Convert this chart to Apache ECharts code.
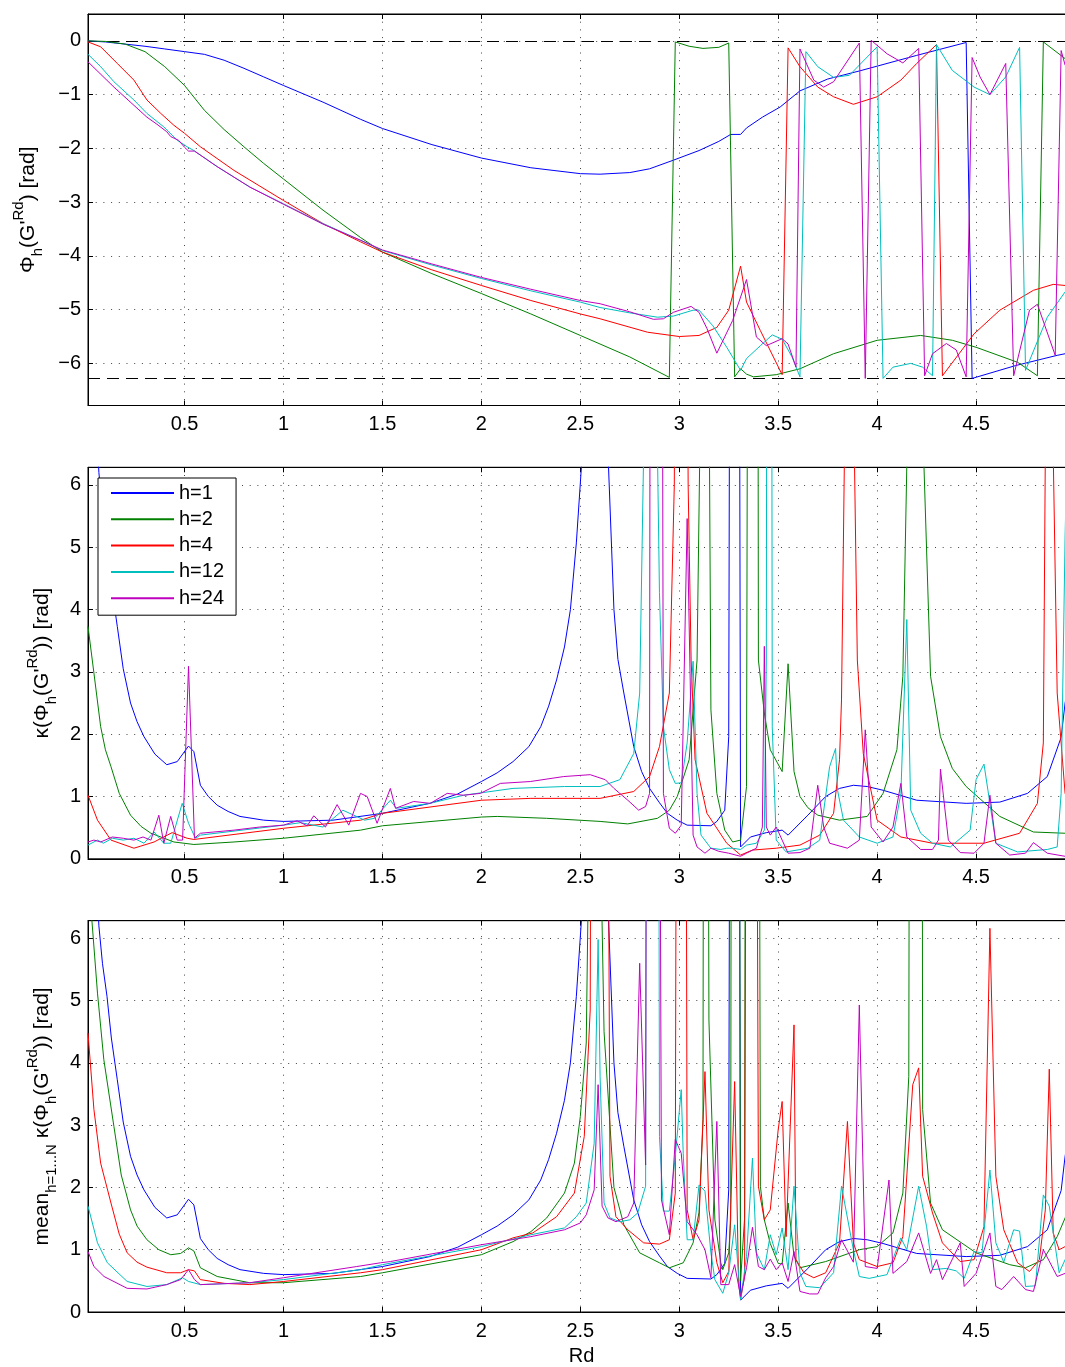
<!DOCTYPE html>
<html><head><meta charset="utf-8">
<script src="https://cdn.jsdelivr.net/npm/echarts@6/dist/echarts.min.js"></script>
<style>html,body{margin:0;padding:0;overflow:hidden;background:#fff}#c{width:1080px;height:1367px}</style>
</head><body><div id="c"></div>
<script>
const seriesNames = ['h=1', 'h=2', 'h=4', 'h=12', 'h=24'];
const colors = ['#0000ff', '#008000', '#ff0000', '#00bfbf', '#bf00bf'];
const refLines = [0, -2 * Math.PI];

// ---- Panel 1: phase ----
const phaseH1 = [[0.012,0],[0.1,-0.02],[0.2,-0.06],[0.3,-0.1],[0.4,-0.15],[0.5,-0.2],[0.6,-0.25],[0.7,-0.36],[0.8,-0.51],[0.9,-0.67],[1.0,-0.83],[1.2,-1.14],[1.39,-1.46],[1.5,-1.63],[1.75,-1.93],[2.0,-2.18],[2.25,-2.36],[2.5,-2.47],[2.6,-2.48],[2.75,-2.45],[2.85,-2.38],[2.97,-2.22],[3.1,-2.04],[3.2,-1.87],[3.26,-1.74],[3.31,-1.74],[3.34,-1.62],[3.42,-1.42],[3.51,-1.23],[3.61,-0.93],[3.75,-0.71],[3.91,-0.56],[4.0,-0.47],[4.2,-0.27],[4.45,-0.03],[4.48,-6.28],[4.7,-6.04],[4.91,-5.85],[4.95,-5.82],[5.0,-5.78]];
const phaseH2 = [[0.012,0],[0.1,-0.01],[0.2,-0.06],[0.3,-0.2],[0.4,-0.48],[0.5,-0.83],[0.6,-1.29],[0.7,-1.65],[0.8,-1.97],[0.9,-2.28],[1.0,-2.57],[1.2,-3.15],[1.39,-3.66],[1.5,-3.93],[1.75,-4.33],[2.0,-4.7],[2.25,-5.08],[2.5,-5.48],[2.75,-5.88],[2.95,-6.26],[2.98,-0.02],[3.05,-0.1],[3.12,-0.14],[3.2,-0.12],[3.25,-0.04],[3.28,-6.25],[3.31,-6.1],[3.34,-6.2],[3.375,-6.25],[3.49,-6.21],[3.61,-6.1],[3.78,-5.82],[4.0,-5.57],[4.22,-5.48],[4.38,-5.57],[4.5,-5.7],[4.71,-5.98],[4.81,-6.23],[4.84,-0.02],[4.95,-0.33],[5.0,-0.45]];
const phaseH4 = [[0.012,-0.02],[0.076,-0.11],[0.16,-0.42],[0.244,-0.73],[0.31,-1.1],[0.38,-1.35],[0.446,-1.57],[0.5,-1.72],[0.58,-1.97],[0.75,-2.41],[1.0,-2.97],[1.2,-3.4],[1.39,-3.74],[1.5,-3.93],[1.75,-4.26],[2.0,-4.55],[2.25,-4.83],[2.5,-5.08],[2.6,-5.17],[2.84,-5.42],[3.0,-5.5],[3.1,-5.48],[3.19,-5.33],[3.25,-5.01],[3.31,-4.19],[3.34,-4.86],[3.41,-5.39],[3.52,-6.21],[3.55,-0.13],[3.61,-0.48],[3.7,-0.86],[3.78,-1.04],[3.88,-1.18],[4.0,-1.04],[4.12,-0.73],[4.2,-0.42],[4.3,-0.07],[4.33,-6.23],[4.49,-5.45],[4.62,-5.01],[4.79,-4.64],[4.89,-4.53],[4.95,-4.55],[5.0,-4.58]];
const phaseH12 = [[0.012,-0.25],[0.076,-0.48],[0.143,-0.76],[0.244,-1.1],[0.31,-1.35],[0.395,-1.6],[0.463,-1.85],[0.513,-1.97],[0.547,-2.04],[0.665,-2.34],[0.83,-2.72],[1.0,-3.03],[1.2,-3.4],[1.39,-3.71],[1.5,-3.9],[1.75,-4.17],[2.0,-4.42],[2.25,-4.65],[2.5,-4.86],[2.6,-4.96],[2.75,-5.06],[2.89,-5.14],[2.97,-5.12],[3.07,-5.01],[3.1,-5.01],[3.17,-5.3],[3.24,-5.7],[3.31,-6.13],[3.34,-5.91],[3.41,-5.67],[3.47,-5.47],[3.52,-5.55],[3.57,-5.88],[3.61,-6.25],[3.64,-0.2],[3.7,-0.48],[3.78,-0.68],[3.86,-0.64],[4.0,-0.11],[4.03,-6.28],[4.08,-6.07],[4.17,-6.0],[4.23,-6.07],[4.28,-6.23],[4.3,-0.07],[4.38,-0.55],[4.49,-0.86],[4.57,-1.0],[4.65,-0.67],[4.72,-0.12],[4.75,-6.13],[4.86,-5.14],[4.95,-4.67],[5.0,-4.5]];
const phaseH24 = [[0.012,-0.39],[0.143,-0.86],[0.31,-1.42],[0.36,-1.55],[0.41,-1.69],[0.43,-1.78],[0.47,-1.85],[0.5,-1.98],[0.52,-2.05],[0.55,-2.05],[0.665,-2.34],[0.83,-2.72],[1.0,-3.04],[1.2,-3.41],[1.39,-3.71],[1.5,-3.89],[1.75,-4.15],[2.0,-4.4],[2.25,-4.62],[2.5,-4.83],[2.6,-4.89],[2.75,-5.04],[2.87,-5.18],[2.92,-5.17],[2.97,-5.05],[3.06,-4.94],[3.1,-5.05],[3.14,-5.35],[3.19,-5.81],[3.27,-5.2],[3.34,-4.44],[3.39,-5.51],[3.44,-5.67],[3.52,-5.54],[3.55,-5.64],[3.59,-6.07],[3.61,-0.15],[3.68,-0.73],[3.73,-0.86],[3.78,-0.76],[3.91,-0.04],[3.94,-6.28],[3.97,0.01],[4.05,-0.24],[4.13,-0.41],[4.21,-0.14],[4.24,-6.23],[4.28,-5.82],[4.35,-5.63],[4.4,-5.75],[4.45,-6.25],[4.48,-0.31],[4.52,-0.67],[4.57,-1.0],[4.65,-0.42],[4.69,-6.23],[4.77,-5.01],[4.81,-4.9],[4.9,-5.85],[4.93,-0.18],[4.95,-0.45],[5.0,-0.7]];

// ---- Panel 2: kappa ----
const kappaH1 = [[0.012,9],[0.04,8],[0.067,6.2],[0.085,5.6],[0.108,5.07],[0.13,4.4],[0.16,3.73],[0.19,3.05],[0.227,2.5],[0.26,2.2],[0.295,1.96],[0.35,1.68],[0.41,1.51],[0.463,1.56],[0.52,1.81],[0.547,1.72],[0.58,1.18],[0.62,1.0],[0.665,0.86],[0.72,0.76],[0.78,0.68],[0.9,0.62],[1.0,0.6],[1.25,0.62],[1.5,0.73],[1.74,0.89],[1.88,1.04],[2.0,1.24],[2.08,1.38],[2.16,1.56],[2.24,1.8],[2.3,2.12],[2.34,2.45],[2.38,2.87],[2.42,3.4],[2.45,4.0],[2.48,5.07],[2.51,6.5],[2.54,12],[2.57,30],[2.61,12],[2.64,6.5],[2.67,4.0],[2.69,3.2],[2.72,2.66],[2.77,1.8],[2.81,1.4],[2.85,1.13],[2.9,0.9],[2.94,0.73],[2.99,0.62],[3.04,0.54],[3.16,0.53],[3.19,0.6],[3.23,0.78],[3.25,1.96],[3.27,30],[3.29,30],[3.31,0.19],[3.36,0.35],[3.44,0.42],[3.52,0.46],[3.55,0.38],[3.65,0.7],[3.74,1.0],[3.81,1.13],[3.88,1.18],[3.95,1.16],[4.03,1.1],[4.2,0.94],[4.45,0.89],[4.62,0.91],[4.76,1.05],[4.86,1.32],[4.93,1.95],[4.95,2.5],[5.0,3.4]];
const kappaH2 = [[0.012,3.73],[0.042,2.98],[0.076,2.12],[0.1,1.75],[0.128,1.48],[0.17,1.05],[0.227,0.7],[0.28,0.52],[0.33,0.41],[0.446,0.27],[0.547,0.23],[0.75,0.27],[1.0,0.33],[1.39,0.46],[1.5,0.53],[2.0,0.67],[2.08,0.68],[2.33,0.65],[2.6,0.6],[2.74,0.56],[2.89,0.65],[2.95,0.78],[2.99,1.0],[3.05,1.59],[3.09,3.19],[3.11,8],[3.13,30],[3.15,8],[3.16,2.39],[3.19,1.05],[3.23,0.46],[3.27,0.27],[3.31,0.3],[3.34,1.16],[3.36,30],[3.39,30],[3.4,3.19],[3.43,2.34],[3.46,1.75],[3.52,1.4],[3.55,3.13],[3.58,1.4],[3.61,1.0],[3.65,0.82],[3.7,0.7],[3.81,0.62],[3.95,0.68],[4.03,1.05],[4.1,1.75],[4.13,2.93],[4.16,8],[4.19,30],[4.22,8],[4.27,2.93],[4.32,1.96],[4.38,1.45],[4.45,1.16],[4.62,0.68],[4.79,0.43],[4.95,0.41],[5.0,0.42]];
const kappaH4 = [[0.012,1.02],[0.06,0.62],[0.128,0.3],[0.244,0.17],[0.346,0.27],[0.437,0.42],[0.513,0.33],[0.547,0.31],[1.0,0.49],[1.39,0.62],[1.5,0.73],[2.0,0.94],[2.25,0.97],[2.6,0.97],[2.77,1.08],[2.85,1.32],[2.9,1.8],[2.95,2.66],[2.975,6.0],[3.01,30],[3.045,6.0],[3.06,3.19],[3.08,1.59],[3.14,0.73],[3.24,0.25],[3.31,0.06],[3.37,0.14],[3.49,0.17],[3.61,0.22],[3.71,0.38],[3.78,0.73],[3.81,1.59],[3.82,2.55],[3.835,6.5],[3.86,30],[3.885,6.5],[3.9,3.19],[3.93,1.69],[4.0,0.62],[4.12,0.35],[4.28,0.25],[4.54,0.25],[4.72,0.41],[4.81,0.89],[4.84,1.86],[4.85,6.5],[4.87,30],[4.89,6.5],[4.91,2.66],[4.95,1.05],[5.0,0.7]];
const kappaH12 = [[0.012,0.22],[0.06,0.3],[0.09,0.25],[0.135,0.33],[0.19,0.3],[0.244,0.33],[0.295,0.25],[0.346,0.43],[0.395,0.25],[0.43,0.25],[0.488,0.89],[0.52,0.57],[0.555,0.33],[0.58,0.38],[1.0,0.54],[1.086,0.58],[1.2,0.51],[1.3,0.78],[1.41,0.62],[1.46,0.65],[1.54,0.94],[1.57,0.81],[1.74,0.89],[1.91,1.02],[2.16,1.13],[2.42,1.16],[2.6,1.16],[2.7,1.27],[2.77,1.69],[2.8,2.66],[2.82,6.5],[2.86,30],[2.89,6.5],[2.9,4.27],[2.92,2.12],[2.95,1.43],[2.98,1.21],[3.01,1.22],[3.04,1.86],[3.07,3.17],[3.09,1.05],[3.11,0.38],[3.16,0.17],[3.21,0.15],[3.24,0.17],[3.27,0.17],[3.31,0.15],[3.34,0.22],[3.39,0.25],[3.43,0.46],[3.44,3.19],[3.455,40],[3.47,2.12],[3.49,0.3],[3.54,0.11],[3.65,0.17],[3.71,0.3],[3.76,1.48],[3.79,1.77],[3.8,1.1],[3.83,0.62],[3.91,0.35],[4.0,0.25],[4.08,0.35],[4.12,1.05],[4.15,3.84],[4.17,0.78],[4.22,0.41],[4.28,0.25],[4.37,0.19],[4.47,0.46],[4.5,1.27],[4.54,1.52],[4.56,1.1],[4.6,0.25],[4.71,0.11],[4.86,0.15],[4.91,0.19],[4.93,1.05],[4.95,5.18],[4.97,8]];
const kappaH24 = [[0.012,0.27],[0.042,0.3],[0.076,0.27],[0.135,0.35],[0.19,0.33],[0.244,0.3],[0.29,0.35],[0.33,0.3],[0.37,0.7],[0.395,0.25],[0.43,0.68],[0.463,0.3],[0.49,0.3],[0.52,3.09],[0.55,0.33],[0.58,0.41],[0.75,0.46],[0.88,0.51],[1.0,0.54],[1.069,0.61],[1.12,0.53],[1.153,0.69],[1.212,0.51],[1.271,0.87],[1.33,0.54],[1.389,1.05],[1.423,1.0],[1.473,0.57],[1.54,1.13],[1.566,0.81],[1.658,0.92],[1.742,0.89],[1.827,1.05],[1.91,1.02],[1.995,1.05],[2.096,1.21],[2.247,1.24],[2.416,1.32],[2.55,1.35],[2.626,1.27],[2.67,1.13],[2.74,0.94],[2.795,0.78],[2.83,0.84],[2.85,1.05],[2.86,30],[2.9,30],[2.92,1.05],[2.95,0.49],[2.98,0.41],[3.01,0.54],[3.04,5.46],[3.07,0.38],[3.09,0.19],[3.13,0.09],[3.16,0.17],[3.2,0.12],[3.25,0.09],[3.31,0.04],[3.34,0.09],[3.39,0.17],[3.42,0.51],[3.43,3.41],[3.44,0.51],[3.46,0.38],[3.49,0.51],[3.52,0.3],[3.55,0.09],[3.61,0.1],[3.66,0.17],[3.7,1.18],[3.73,0.51],[3.76,0.25],[3.85,0.17],[3.91,0.3],[3.94,2.07],[3.97,0.51],[4.03,0.27],[4.08,0.51],[4.12,1.21],[4.15,0.35],[4.22,0.15],[4.28,0.15],[4.31,0.3],[4.32,1.44],[4.36,0.3],[4.42,0.1],[4.49,0.09],[4.54,0.25],[4.57,1.02],[4.6,0.25],[4.67,0.06],[4.75,0.09],[4.79,0.26],[4.86,0.09],[4.95,0.04],[5.0,0.04]];

// ---- Panel 3: mean kappa over h=1..N ----
const meanH1 = kappaH1; // the mean over h=1 alone is the same curve as in panel 2
const meanH2 = [[0.012,9],[0.029,6.4],[0.06,5.12],[0.092,4.05],[0.143,2.98],[0.18,2.2],[0.227,1.64],[0.26,1.38],[0.31,1.16],[0.37,1.0],[0.43,0.92],[0.48,0.94],[0.52,1.03],[0.547,0.98],[0.58,0.71],[0.665,0.57],[0.83,0.47],[1.0,0.47],[1.39,0.57],[1.5,0.63],[2.0,0.92],[2.16,1.13],[2.25,1.29],[2.33,1.51],[2.42,1.91],[2.47,2.39],[2.5,3.14],[2.53,4.32],[2.545,8],[2.57,30],[2.6,8],[2.62,4.5],[2.67,2.0],[2.72,1.4],[2.8,0.95],[2.9,0.79],[2.95,0.71],[3.02,0.79],[3.07,1.11],[3.1,1.6],[3.12,3.09],[3.13,30],[3.15,4.69],[3.18,1.48],[3.21,0.79],[3.22,0.68],[3.25,0.95],[3.26,1.48],[3.27,30],[3.29,30],[3.31,0.5],[3.33,1.5],[3.345,30],[3.39,30],[3.41,2.02],[3.43,1.48],[3.46,1.1],[3.5,0.78],[3.52,0.77],[3.55,1.75],[3.58,0.9],[3.61,0.71],[3.74,0.81],[3.91,1.0],[4.0,1.05],[4.08,1.27],[4.13,1.91],[4.16,3.78],[4.175,30],[4.22,30],[4.23,3.25],[4.27,1.75],[4.33,1.32],[4.5,0.95],[4.67,0.76],[4.75,0.71],[4.84,0.84],[4.91,1.21],[4.95,1.51],[5.0,1.9]];
const meanH4 = [[0.012,4.48],[0.042,3.25],[0.076,2.39],[0.128,1.75],[0.17,1.25],[0.21,0.95],[0.26,0.8],[0.31,0.72],[0.41,0.63],[0.48,0.63],[0.52,0.68],[0.55,0.66],[0.58,0.52],[0.7,0.46],[0.83,0.44],[1.0,0.49],[1.39,0.63],[1.5,0.68],[2.0,1.0],[2.16,1.19],[2.26,1.27],[2.38,1.53],[2.47,1.91],[2.52,2.82],[2.55,4.85],[2.57,30],[2.61,30],[2.65,2.18],[2.68,1.53],[2.74,1.32],[2.82,1.11],[2.9,1.09],[2.95,1.16],[2.98,1.91],[3.0,30],[3.02,30],[3.04,1.64],[3.07,1.16],[3.1,1.48],[3.13,3.86],[3.15,1.64],[3.19,0.79],[3.22,0.47],[3.25,0.65],[3.28,3.7],[3.3,0.47],[3.31,0.2],[3.33,0.57],[3.355,30],[3.37,30],[3.4,2.02],[3.43,1.48],[3.46,1.64],[3.5,2.93],[3.52,3.38],[3.54,1.21],[3.58,4.61],[3.59,0.84],[3.63,0.63],[3.68,0.55],[3.74,0.63],[3.81,1.11],[3.85,3.06],[3.88,1.11],[3.91,0.84],[4.0,0.73],[4.08,0.79],[4.13,1.21],[4.18,3.65],[4.21,3.92],[4.23,2.18],[4.28,1.59],[4.33,1.11],[4.42,0.81],[4.49,0.84],[4.54,1.37],[4.57,6.16],[4.6,2.18],[4.64,1.32],[4.71,0.79],[4.77,0.65],[4.82,0.84],[4.85,1.64],[4.87,3.9],[4.89,1.27],[4.92,1.0],[4.95,1.05],[5.0,0.9]];
const meanH12 = [[0.012,1.7],[0.06,1.11],[0.11,0.79],[0.21,0.49],[0.31,0.41],[0.41,0.44],[0.49,0.55],[0.52,0.49],[0.58,0.44],[0.83,0.47],[1.0,0.52],[1.39,0.68],[1.5,0.76],[2.0,1.05],[2.25,1.24],[2.42,1.35],[2.48,1.53],[2.53,1.75],[2.57,2.71],[2.59,5.98],[2.6,3.78],[2.62,1.75],[2.65,1.51],[2.7,1.45],[2.75,1.48],[2.79,1.59],[2.83,2.02],[2.845,30],[2.885,30],[2.9,2.82],[2.92,1.62],[2.95,1.62],[2.98,2.5],[3.01,3.57],[3.02,2.55],[3.04,1.16],[3.07,1.16],[3.1,2.04],[3.13,1.94],[3.16,0.95],[3.18,0.52],[3.22,0.3],[3.25,0.63],[3.28,1.4],[3.31,0.2],[3.34,0.89],[3.37,2.47],[3.39,0.95],[3.43,0.68],[3.46,1.24],[3.49,0.92],[3.52,1.35],[3.55,0.68],[3.58,2.02],[3.61,0.63],[3.64,0.41],[3.71,0.39],[3.78,0.63],[3.82,2.02],[3.88,1.0],[3.91,0.57],[3.96,0.54],[4.05,0.6],[4.12,1.19],[4.15,1.0],[4.21,2.02],[4.25,1.37],[4.28,0.68],[4.35,0.7],[4.4,0.66],[4.44,0.54],[4.49,0.97],[4.53,0.95],[4.57,2.28],[4.6,1.11],[4.64,0.8],[4.69,1.32],[4.72,1.3],[4.75,0.41],[4.8,0.42],[4.84,1.88],[4.87,1.7],[4.92,0.63],[4.95,0.84],[5.0,1.0]];
const meanH24 = [[0.012,0.97],[0.042,0.73],[0.093,0.57],[0.21,0.38],[0.31,0.37],[0.41,0.44],[0.48,0.52],[0.52,0.68],[0.55,0.52],[0.58,0.44],[0.83,0.47],[1.0,0.55],[1.37,0.73],[1.49,0.79],[1.54,0.81],[2.0,1.08],[2.25,1.21],[2.42,1.32],[2.5,1.43],[2.53,1.56],[2.57,1.96],[2.59,3.65],[2.61,1.7],[2.64,1.51],[2.68,1.45],[2.74,1.53],[2.77,1.75],[2.8,5.6],[2.83,2.36],[2.845,30],[2.88,30],[2.91,1.8],[2.95,1.24],[2.98,2.77],[3.01,2.55],[3.04,1.45],[3.09,1.24],[3.13,1.0],[3.16,0.55],[3.19,3.06],[3.21,0.44],[3.25,0.44],[3.28,0.76],[3.31,0.25],[3.34,0.71],[3.37,1.36],[3.4,0.73],[3.43,0.68],[3.46,0.85],[3.49,0.68],[3.52,0.79],[3.55,0.49],[3.58,0.97],[3.61,0.33],[3.66,0.29],[3.7,0.29],[3.74,0.55],[3.78,0.73],[3.82,1.16],[3.88,0.8],[3.91,4.93],[3.94,0.73],[4.0,0.7],[4.06,2.12],[4.08,0.62],[4.15,0.81],[4.21,1.27],[4.27,0.62],[4.3,0.84],[4.33,0.52],[4.42,1.11],[4.44,0.41],[4.5,0.62],[4.57,1.27],[4.6,0.41],[4.63,0.36],[4.69,0.57],[4.75,0.36],[4.79,0.33],[4.84,1.0],[4.91,0.57],[4.95,0.62],[5.0,0.6]];

const panels = [
  [phaseH1, phaseH2, phaseH4, phaseH12, phaseH24],
  [kappaH1, kappaH2, kappaH4, kappaH12, kappaH24],
  [meanH1, meanH2, meanH4, meanH12, meanH24]
];

const FONT = 'Liberation Sans, Arial, Helvetica, sans-serif';
const X_MIN = 0.012, X_MAX = 5;
const gridTops = [14, 467.3, 920.7];
const GRID_H = 391.5;
const yRanges = [[-2 * Math.PI - 0.5, 0.5], [0, 2 * Math.PI], [0, 2 * Math.PI]];
const yNames = [
  '{n|Φ}{s|h}{n|(G\'}{p|Rd}{n|) [rad]}',
  '{n|κ(Φ}{s|h}{n|(G\'}{p|Rd}{n|)) [rad]}',
  '{n|mean}{s|h=1...N}{n| κ(Φ}{s|h}{n|(G\'}{p|Rd}{n|)) [rad]}'
];
const yNameGaps = [43, 29, 29];
const richName = {
  n: { fontSize: 21, lineHeight: 34, fontFamily: FONT, color: '#000', verticalAlign: 'middle' },
  s: { fontSize: 15, lineHeight: 15, fontFamily: FONT, color: '#000', verticalAlign: 'bottom' },
  p: { fontSize: 15, lineHeight: 15, fontFamily: FONT, color: '#000', verticalAlign: 'top' }
};
const minus = v => String(v).replace('-', '\u2212');
const dotted = { color: '#444', width: 1, type: [1, 6.7] };
const axisLineStyle = { show: true, onZero: false, lineStyle: { color: '#000', width: 1 } };

const grids = [], xAxes = [], yAxes = [], series = [];
for (let i = 0; i < 3; i++) {
  grids.push({ left: 88, top: gridTops[i], height: GRID_H, right: 5, show: true, borderColor: '#000', borderWidth: 1, backgroundColor: '#fff', containLabel: false });
  xAxes.push({
    type: 'value', gridIndex: i, min: X_MIN, max: X_MAX, splitNumber: 10, position: 'bottom',
    axisLine: axisLineStyle,
    axisTick: { show: true, inside: true, length: 5, lineStyle: { color: '#000' } },
    axisLabel: { show: true, margin: 9, fontSize: 20, fontFamily: FONT, color: '#000', showMinLabel: false, showMaxLabel: false, formatter: minus },
    splitLine: { show: true, lineStyle: dotted },
    name: i === 2 ? 'Rd' : '', nameLocation: 'middle', nameGap: 34,
    nameTextStyle: { fontSize: 20, fontFamily: FONT, color: '#000' }
  });
  xAxes.push({
    type: 'value', gridIndex: i, min: X_MIN, max: X_MAX, splitNumber: 10, position: 'top',
    axisLine: axisLineStyle,
    axisTick: { show: true, inside: true, length: 5, lineStyle: { color: '#000' } },
    axisLabel: { show: false }, splitLine: { show: false }
  });
  yAxes.push({
    type: 'value', gridIndex: i, min: yRanges[i][0], max: yRanges[i][1], splitNumber: i === 0 ? 7 : 6,
    axisLine: axisLineStyle,
    axisTick: { show: true, inside: true, length: 5, lineStyle: { color: '#000' } },
    axisLabel: { margin: 7, fontSize: 20, fontFamily: FONT, color: '#000', showMinLabel: i !== 0, showMaxLabel: false, formatter: minus },
    splitLine: { show: true, lineStyle: dotted },
    name: yNames[i], nameLocation: 'middle', nameGap: yNameGaps[i], nameRotate: 90,
    nameTextStyle: { rich: richName }
  });
  panels[i].forEach((data, k) => {
    const s = {
      type: 'line', name: seriesNames[k], xAxisIndex: 2 * i, yAxisIndex: i, data: data,
      symbol: 'none', showSymbol: false, clip: true,
      lineStyle: { color: colors[k], width: 1 }, itemStyle: { color: colors[k] },
      emphasis: { disabled: true }, z: 2 + k
    };
    if (i === 0 && k === 0) {
      s.markLine = {
        silent: true, symbol: 'none', label: { show: false }, z: 1,
        lineStyle: { color: '#000', width: 1, type: [12, 7] },
        data: refLines.map(v => ({ yAxis: v }))
      };
    }
    series.push(s);
  });
}

const chart = echarts.init(document.getElementById('c'), null, { renderer: 'canvas' });
chart.setOption({
  animation: false,
  backgroundColor: '#fff',
  grid: grids, xAxis: xAxes, yAxis: yAxes, series: series,
  legend: {
    data: seriesNames, orient: 'vertical', left: 98, top: 478,
    itemWidth: 63, itemHeight: 20, itemGap: 6.3, padding: [5, 12, 7, 12],
    borderColor: '#000', borderWidth: 1, backgroundColor: '#fff', selectedMode: false,
    itemStyle: { opacity: 0 },
    textStyle: { fontSize: 20, fontFamily: FONT, color: '#000', lineHeight: 20 }
  }
});
</script></body></html>
